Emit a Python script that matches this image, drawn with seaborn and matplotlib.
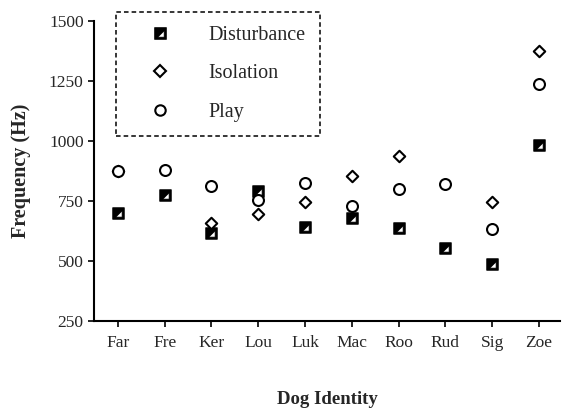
""" Dog vocalisation frequency by context """
import numpy as np
import pandas as pd
import seaborn as sns
import matplotlib.pyplot as plt
from matplotlib.path import Path
from matplotlib.lines import Line2D

dogs = ["Far", "Fre", "Ker", "Lou", "Luk", "Mac", "Roo", "Rud", "Sig", "Zoe"]
disturbance = [700, 777, 618, 793, 640, 678, 636, 553, 488, 982]
isolation = [873, np.nan, 657, 696, 747, 855, 936, np.nan, 747, 1375]
play = [875, 879, 813, 754, 824, 730, 799, 820, 635, 1238]
y_ticks = [250, 500, 750, 1000, 1250, 1500]

# black square with a white triangle cut out (lower right)
sq_marker = Path(
    [(-1, -1), (1, -1), (1, 1), (-1, 1), (-1, -1),
     (0.62, -0.62), (-0.45, -0.62), (0.62, 0.45), (0.62, -0.62)],
    [Path.MOVETO, Path.LINETO, Path.LINETO, Path.LINETO, Path.CLOSEPOLY,
     Path.MOVETO, Path.LINETO, Path.LINETO, Path.CLOSEPOLY],
)

df = pd.DataFrame({"dog": dogs, "Disturbance": disturbance,
                   "Isolation": isolation, "Play": play})
df["x"] = range(len(dogs))

sns.set_style("ticks")
plt.rcParams["font.family"] = ["Liberation Serif", "DejaVu Serif"]

fig = plt.figure(figsize=(5.62, 4.11), dpi=100)
ax = fig.add_axes([94 / 562, 1 - 321 / 411, 466 / 562, 300 / 411])

styles = {
    "Disturbance": dict(marker=sq_marker, color="black", s=70, lw=0.5),
    "Isolation": dict(marker="D", color="white", s=34, lw=1.5),
    "Play": dict(marker="o", color="white", s=62, lw=1.5),
}
for col, st in styles.items():
    sns.scatterplot(x="x", y=col, data=df, ax=ax, marker=st["marker"],
                    color=st["color"], edgecolor="black", linewidth=st["lw"],
                    s=st["s"], zorder=3)

ax.set_xlim(-0.51, 9.45)
ax.set_ylim(250, 1500)
ax.set_xticks(range(len(dogs)))
ax.set_xticklabels(dogs)
ax.set_yticks(y_ticks)
ax.tick_params(axis="both", labelsize=12.5, length=4, width=1.2,
               color="black")
ax.tick_params(axis="x", pad=6)
for side in ["top", "right"]:
    ax.spines[side].set_visible(False)
for side in ["left", "bottom"]:
    ax.spines[side].set_linewidth(1.5)
    ax.spines[side].set_color("black")

ax.set_xlabel("Dog Identity", fontsize=13.5, fontweight="bold", labelpad=29)
ax.set_ylabel("Frequency (Hz)", fontsize=14.5, fontweight="bold", labelpad=13)

handles = [
    Line2D([], [], linestyle="none", marker=sq_marker, markersize=8.5,
           markerfacecolor="black", markeredgecolor="black", markeredgewidth=0.5),
    Line2D([], [], linestyle="none", marker="D", markersize=5.8,
           markerfacecolor="white", markeredgecolor="black", markeredgewidth=1.5),
    Line2D([], [], linestyle="none", marker="o", markersize=7.5,
           markerfacecolor="white", markeredgecolor="black", markeredgewidth=1.5),
]
leg = ax.legend(handles, ["Disturbance", "Isolation", "Play"],
                loc="upper left", bbox_to_anchor=(116 / 562, 1 - 12 / 411),
                bbox_transform=fig.transFigure, borderaxespad=0,
                fontsize=14.5, labelspacing=0.95, handlelength=3.0,
                handletextpad=0.9, borderpad=0.7, fancybox=False,
                framealpha=1, edgecolor="black")
frame = leg.get_frame()
frame.set_linestyle((0, (3, 2)))
frame.set_linewidth(1.1)

fig.savefig("out.png", dpi=100)
